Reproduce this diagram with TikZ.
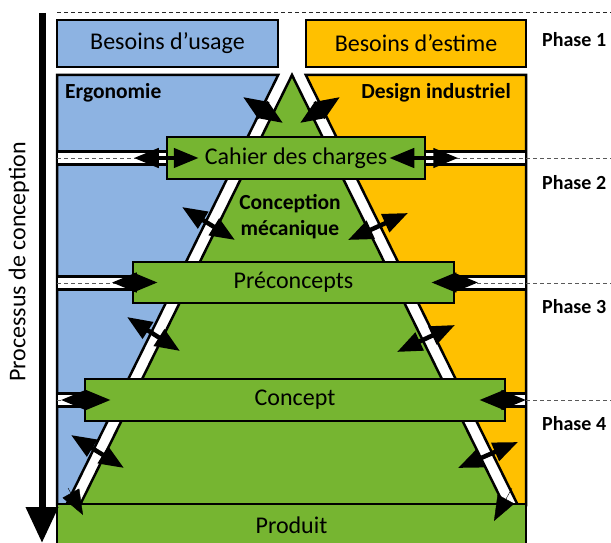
\documentclass[tikz,border=0pt]{standalone}
\usepackage{fontspec}
\setmainfont{Carlito}
\usetikzlibrary{arrows.meta}
\usetikzlibrary{positioning}

\definecolor{usageblue}{HTML}{8DB3E2}
\definecolor{estimeorange}{HTML}{FFC000}
\definecolor{conceptgreen}{HTML}{76B531}

\tikzset{
  blackedge/.style={draw=black,line width=2.5pt},
  topbox/.style={blackedge,inner sep=0pt,minimum height=47pt,
    font=\fontsize{24}{28}\selectfont},
  greenbox/.style={blackedge,fill=conceptgreen,inner sep=0pt,
    font=\fontsize{24}{28}\selectfont},
  zonelabel/.style={inner sep=0pt,font=\bfseries\fontsize{21.5}{26}\selectfont},
  phaselabel/.style={anchor=west,inner sep=0pt,font=\bfseries\fontsize{20}{24}\selectfont},
  phaseline/.style={draw=black!65,line width=1pt,dash pattern=on 4pt off 3pt},
  bighead/.tip={Triangle[length=25pt,width=19pt,fill=black]},
  twoway/.style={line width=4.5pt,bighead-bighead},
  oneway/.style={line width=0.4pt,-bighead},
  processarrow/.style={line width=7pt,-{Triangle[length=36pt,width=31pt]}}
}

\newcommand\sidestrips[3]{
  \draw[blackedge,fill=white] (57,#1-6.5) rectangle (#2,#1+6.5);
  \draw[blackedge,fill=white] (#3,#1-6.5) rectangle (526,#1+6.5);
  \draw[phaseline] (57,#1) -- (611,#1);
}

\begin{document}
\begin{tikzpicture}[x=1pt,y=-1pt]
  %
  \path[use as bounding box,clip] (0,0) rectangle (611,543);

  \draw[phaseline,draw=black!85] (57,13) -- (611,13);

  % zones
  \draw[blackedge,fill=usageblue] (57,75) -- (278.2,75) -- (66.2,505) -- (57,505) -- cycle;
  \draw[blackedge,fill=estimeorange] (305.8,75) -- (526,75) -- (526,505) -- (517.8,505) -- cycle;
  \draw[blackedge,fill=conceptgreen] (292,75) -- (80,505) -- (504,505) -- cycle;

  \sidestrips{158}{175}{420}
  \sidestrips{283}{140}{448}
  \sidestrips{400}{92}{500}

  % boxes
  \node[topbox,fill=usageblue,minimum width=221pt] (usage) at (167.5,43.5) {Besoins d’usage};
  \node[topbox,fill=estimeorange,minimum width=220pt] (estime) at (416,43.5) {Besoins d’estime};

  \node[greenbox,minimum width=258pt,minimum height=42pt] (cahier) at (296,158) {Cahier des charges};
  \node[greenbox,minimum width=321pt,minimum height=41pt] (preconcepts) at (293.5,282.5) {Préconcepts};
  \node[greenbox,minimum width=420pt,minimum height=42pt] (concept) at (295,400) {Concept};
  \node[greenbox,minimum width=469pt,minimum height=42pt] (produit) at (291.5,525) {Produit};

  \node[zonelabel,anchor=west] (ergonomie) at (65,93) {Ergonomie};
  \node[zonelabel,anchor=east] (design) at (511,93) {Design industriel};
  \node[zonelabel,align=center] (mecanique) at (290,217) {Conception\\mécanique};

  \foreach \y [count=\i] in {40,183,307,424} {
    \node[phaselabel] (phase\i) at (542,\y) {Phase \i};
  }

  % arrows across the band
  \foreach \name/\xa/\ya/\xb/\yb in {l1/243/97/283/123, l2/182/207/235/240,
      l3/127/317/180/351, l4/71/435/124/468, r1/300/123/340/97,
      r2/348/240/408/213, r3/397/352/455/325, r4/458/468/518/442} {
    \coordinate (\name a) at (\xa,\ya);
    \coordinate (\name b) at (\xb,\yb);
    \draw[twoway] (\name a) -- (\name b);
  }

  \draw[twoway] ([xshift=-32pt]cahier.west) -- ([xshift=33pt]cahier.west);
  \draw[twoway] ([xshift=-37pt]cahier.east) -- ([xshift=32pt]cahier.east);
  \draw[twoway] ([xshift=-20pt]preconcepts.west) -- ([xshift=26pt]preconcepts.west);
  \draw[twoway] ([xshift=-24pt]preconcepts.east) -- ([xshift=23pt]preconcepts.east);
  \draw[twoway] ([xshift=-23pt]concept.west) -- ([xshift=27pt]concept.west);
  \draw[twoway] ([xshift=-27pt]concept.east) -- ([xshift=20pt]concept.east);

  \coordinate (leftend) at (68,488);
  \coordinate (lefttip) at (83,515);
  \coordinate (rightend) at (512,488);
  \coordinate (righttip) at (494,521);
  \draw[oneway] (leftend) -- (lefttip);
  \draw[oneway] (rightend) -- (righttip);

  % process
  \coordinate (start) at (42,13);
  \coordinate (stop) at (42,543);
  \draw[processarrow] (start) -- (stop);
  \node[rotate=90,font=\fontsize{24}{28}\selectfont] (processus) at (19,262) {Processus de conception};

\end{tikzpicture}
\end{document}
